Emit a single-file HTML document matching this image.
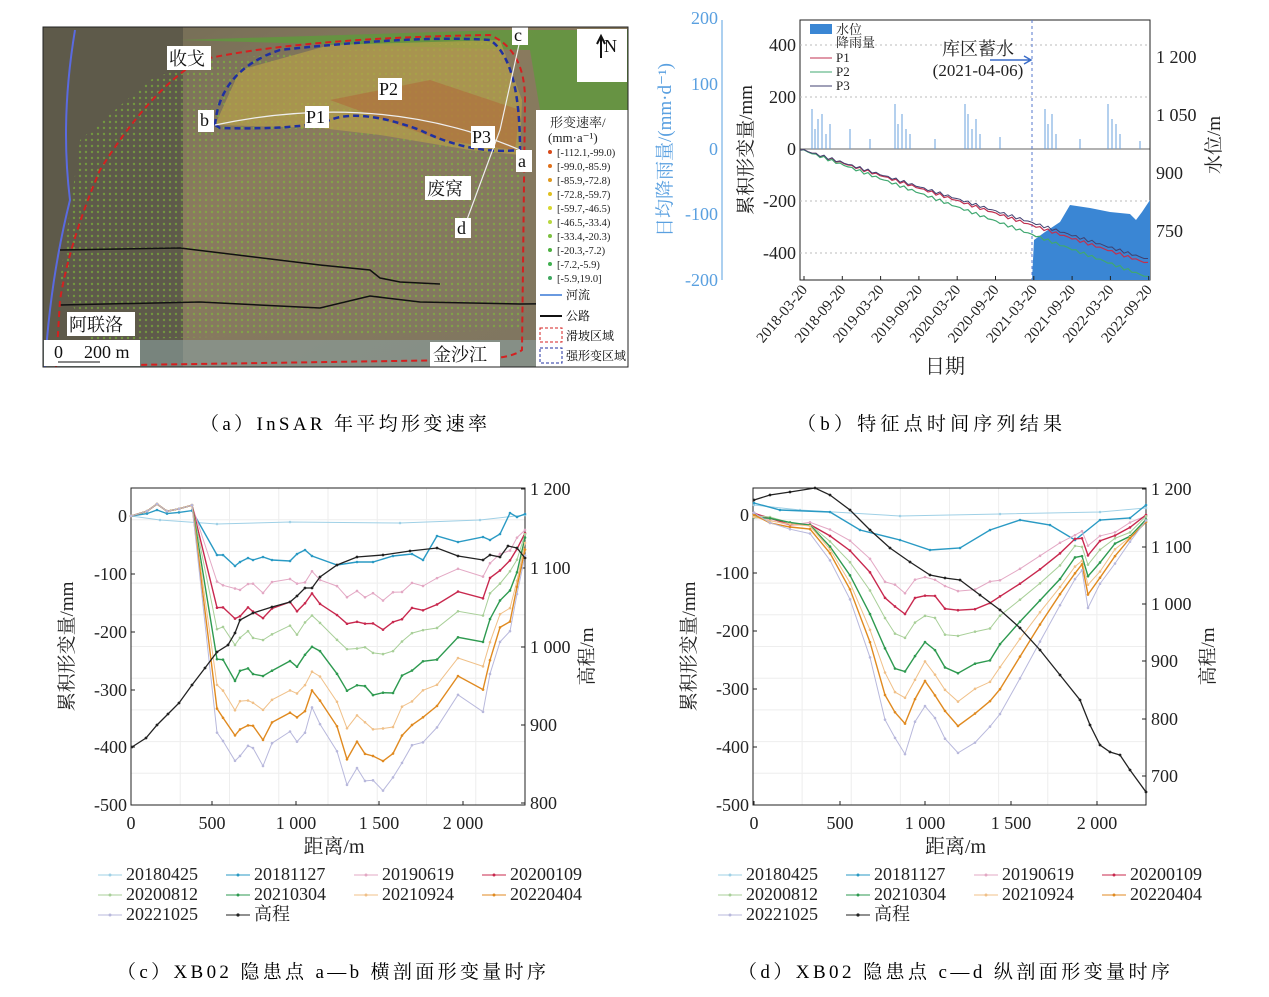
<!DOCTYPE html>
<html><head><meta charset="utf-8"><style>
body{margin:0;background:#fff;}
svg{display:block;font-family:"Liberation Serif","Noto Serif CJK SC",serif;}
</style></head><body>
<svg id="s" width="1269" height="997" viewBox="0 0 1269 997" xmlns="http://www.w3.org/2000/svg">
<defs>
<linearGradient id="g1" x1="0" y1="0" x2="1" y2="1">
<stop offset="0" stop-color="#6f6a55"/><stop offset="0.4" stop-color="#8a7b5e"/><stop offset="1" stop-color="#7d7560"/></linearGradient>
<pattern id="dots" width="6" height="6" patternUnits="userSpaceOnUse"><circle cx="2" cy="2" r="1.2" fill="#7fbf3a"/></pattern>
</defs>
<rect x="43" y="27" width="585" height="340" fill="url(#g1)"/>
<rect x="43" y="27" width="140" height="340" fill="#5e5a4a"/>
<path d="M180 40 L500 30 L628 30 L628 110 L540 110 L530 50 Z" fill="#5f9a3c" opacity="0.8"/>
<path d="M60 280 L80 140 L150 80 L200 60 L500 40 L520 150 L520 330 L90 340 Z" fill="url(#dots)" opacity="0.6"/>
<path d="M215 125 L240 70 L330 45 L500 40 L522 100 L520 155 L470 150 L380 135 L320 128 Z" fill="#b7a04a" opacity="0.7"/>
<path d="M330 100 L430 80 L520 110 L515 150 L440 140 Z" fill="#b06a3a" opacity="0.6"/>
<rect x="43" y="340" width="585" height="27" fill="#8aa0a0" opacity="0.6"/>
<path d="M75 30 Q60 120 70 200 Q50 280 45 367" stroke="#5a6ae0" stroke-width="2" fill="none"/>
<path d="M60 250 L180 248 L320 265 L370 270 L380 278 L400 282 L440 284" stroke="#111" stroke-width="1.5" fill="none"/>
<path d="M60 305 L200 302 L320 308 L370 296 L420 302 L520 304 L628 303" stroke="#111" stroke-width="1.5" fill="none"/>
<path d="M56 367 L60 300 Q70 240 100 170 Q150 90 200 60 Q300 38 490 35 Q525 50 525 100 L522 350 Q510 360 460 360 L130 365" stroke="#d42020" stroke-width="2" stroke-dasharray="6,4" fill="none"/>
<path d="M215 125 Q220 70 280 50 Q420 35 490 40 Q520 60 520 150 Q470 155 420 130 Q360 108 330 120 Q300 130 220 128 Z" stroke="#2030a0" stroke-width="2.5" stroke-dasharray="6,4" fill="none"/>
<path d="M215 125 Q380 90 520 150" stroke="#eee" stroke-width="1.2" fill="none"/>
<path d="M520 40 L500 130 L465 225" stroke="#eee" stroke-width="1.2" fill="none"/>
<g font-size="18" fill="#111">
<rect x="167" y="46" width="44" height="24" fill="#fff"/><text x="169" y="65">收戈</text>
<rect x="378" y="78" width="24" height="22" fill="#fff"/><text x="379" y="95">P2</text>
<rect x="305" y="106" width="24" height="22" fill="#fff"/><text x="306" y="123">P1</text>
<rect x="471" y="126" width="24" height="22" fill="#fff"/><text x="472" y="143">P3</text>
<rect x="198" y="110" width="16" height="22" fill="#fff"/><text x="200" y="126">b</text>
<rect x="516" y="150" width="16" height="22" fill="#fff"/><text x="518" y="167">a</text>
<rect x="512" y="27" width="16" height="18" fill="#fff"/><text x="514" y="41">c</text>
<rect x="455" y="218" width="16" height="20" fill="#fff"/><text x="457" y="234">d</text>
<rect x="425" y="176" width="46" height="24" fill="#fff"/><text x="427" y="195">废窝</text>
<rect x="67" y="312" width="68" height="24" fill="#fff"/><text x="69" y="331">阿联洛</text>
<rect x="44" y="340" width="96" height="26" fill="#fff"/><text x="54" y="358">0</text><text x="84" y="358">200 m</text>
<path d="M58 362 L100 362" stroke="#111"/>
<rect x="430" y="342" width="70" height="25" fill="#fff"/><text x="433" y="361">金沙江</text>
<rect x="577" y="29" width="50" height="53" fill="#fff"/><text x="604" y="52">N</text>
</g>
<path d="M601 58 L601 38 M597 44 L601 36 L605 44" stroke="#111" stroke-width="2" fill="none"/>
<rect x="536" y="110" width="92" height="257" fill="#fff"/>
<g font-size="12" fill="#222">
<text x="550" y="127" font-size="13">形变速率/</text><text x="548" y="142" font-size="13">(mm·a⁻¹)</text>
</g>
<path d="M540 295 L562 295" stroke="#6a9ae0" stroke-width="2"/><text x="566" y="299" font-size="12">河流</text>
<path d="M540 316 L562 316" stroke="#111" stroke-width="2"/><text x="566" y="320" font-size="12">公路</text>
<rect x="540" y="328" width="22" height="14" fill="none" stroke="#d42020" stroke-dasharray="3,2"/><text x="566" y="340" font-size="12">滑坡区域</text>
<rect x="540" y="348" width="22" height="15" fill="none" stroke="#2030a0" stroke-dasharray="3,2"/><text x="566" y="360" font-size="12">强形变区域</text>
<rect x="43" y="27" width="585" height="340" fill="none" stroke="#222"/>
<text x="200" y="430" font-size="19" textLength="287" lengthAdjust="spacing">（a）InSAR 年平均形变速率</text>
<text x="797" y="430" font-size="19" textLength="265" lengthAdjust="spacing">（b）特征点时间序列结果</text>
<text x="117" y="978" font-size="19" textLength="429" lengthAdjust="spacing">（c）XB02 隐患点 a—b 横剖面形变量时序</text>
<text x="738" y="978" font-size="19" textLength="432" lengthAdjust="spacing">（d）XB02 隐患点 c—d 纵剖面形变量时序</text>
<g id="dyn"></g>
</svg>
<script>
const dyn=document.getElementById('dyn');
let h='';
function P(pts){return pts.map((p,i)=>(i?'L':'M')+p[0].toFixed(1)+' '+p[1].toFixed(1)).join(' ');}
function T(x,y,t,o){o=o||{};h+=`<text x="${x}" y="${y}" font-size="${o.s||18}" fill="${o.f||'#222'}" text-anchor="${o.a||'start'}"${o.tr?` transform="${o.tr}"`:''}>${t}</text>`;}
const lc=['#d84a1a','#e0701a','#e09a20','#e0c020','#d8d830','#b8d840','#7cc040','#4cb040','#40b050','#40a860'];
const ll=['[-112.1,-99.0)','[-99.0,-85.9)','[-85.9,-72.8)','[-72.8,-59.7)','[-59.7,-46.5)','[-46.5,-33.4)','[-33.4,-20.3)','[-20.3,-7.2)','[-7.2,-5.9)','[-5.9,19.0]'];
ll.forEach((l,i)=>{let y=156+i*14;h+=`<circle cx="550" cy="${y-4}" r="2" fill="${lc[i]}"/>`;T(557,y,l,{s:10.5});});
h+=`<rect x="800" y="20" width="350" height="260" fill="none" stroke="#222"/>`;
[45,97,201,253].forEach(y=>h+=`<path d="M800 ${y}H1150" stroke="#bbb" stroke-dasharray="2,3"/>`);
h+=`<path d="M800 149H1150" stroke="#333" stroke-width="0.8"/>`;
h+=`<path d="M1032 20V280" stroke="#5577cc" stroke-dasharray="3,3"/>`;
h+=`<path d="M1032 280 L1034 240 L1045 232 L1060 222 L1070 205 L1090 208 L1110 212 L1130 214 L1136 220 L1142 212 L1150 200 L1150 280Z" fill="#3a86d4"/>`;
let r='';const rx=[[812,40],[815,20],[818,30],[822,35],[826,15],[830,25],[850,20],[870,10],[895,45],[898,25],[902,35],[906,20],[910,15],[935,10],[965,45],[968,35],[972,20],[976,30],[980,15],[1000,12],[1045,40],[1048,25],[1052,35],[1056,15],[1080,10],[1108,45],[1112,30],[1116,25],[1120,15],[1140,8]];
rx.forEach(([x,v])=>r+=`M${x} 149V${149-v}`);h+=`<path d="${r}" stroke="#6aa0dc" stroke-width="1"/>`;
function cum(off){let p=[];for(let x=800;x<=1150;x+=4){let y=149+ (x-800)*0.34+off*(x-800)/350 + Math.sin(x*0.7)*1.5;p.push([x,y]);}return p;}
h+=`<path d="${P(cum(-4))}" stroke="#c03050" fill="none" stroke-width="1.2"/>`;
h+=`<path d="${P(cum(10))}" stroke="#40a870" fill="none" stroke-width="1.2"/>`;
h+=`<path d="${P(cum(-8))}" stroke="#404070" fill="none" stroke-width="1"/>`;
h+=`<rect x="810" y="24" width="22" height="10" fill="#3a86d4"/>`;
T(836,34,'水位',{s:13});T(836,47,'降雨量',{s:13});
h+=`<path d="M810 58H832" stroke="#c03050"/>`;T(836,62,'P1',{s:13});
h+=`<path d="M810 72H832" stroke="#40a870"/>`;T(836,76,'P2',{s:13});
h+=`<path d="M810 86H832" stroke="#404070"/>`;T(836,90,'P3',{s:13});
T(978,55,'库区蓄水',{s:18,a:'middle'});T(978,76,'(2021-04-06)',{s:17,a:'middle'});
h+=`<path d="M990 60H1030 M1024 56L1031 60L1024 64" stroke="#3a6cc8" stroke-width="1.5" fill="none"/>`;
[[200,24],[100,90],[0,155],[-100,220],[-200,286]].forEach(([v,y])=>T(718,y,v,{f:'#5aa0e0',a:'end'}));
h+=`<path d="M722 20V280" stroke="#5aa0e0"/>`;
[[400,51],[200,103],[0,155],[-200,207],[-400,259]].forEach(([v,y])=>T(796,y,v,{a:'end'}));
[['1 200',63],['1 050',121],['900',179],['750',237]].forEach(([v,y])=>{T(1156,y,v);});
T(671,150,'日均降雨量/(mm·d⁻¹)',{f:'#5aa0e0',a:'middle',tr:'rotate(-90 671 150)',s:19});
T(752,150,'累积形变量/mm',{a:'middle',tr:'rotate(-90 752 150)',s:19});
T(1220,145,'水位/m',{a:'middle',tr:'rotate(-90 1220 145)',s:19});
const dates=['2018-03-20','2018-09-20','2019-03-20','2019-09-20','2020-03-20','2020-09-20','2021-03-20','2021-09-20','2022-03-20','2022-09-20'];
dates.forEach((d,i)=>{let x=804+i*38.3;h+=`<path d="M${x} 280v-4" stroke="#222"/>`;T(x+4,290,d,{s:15,a:'end',tr:`rotate(-50 ${x+4} 290)`});});
T(945,373,'日期',{a:'middle',s:20});
const cols=['#9fd0e6','#2a9ac4','#e3a8c4','#c8284e','#a8cf98','#2e9a50','#f0c088','#e08a20','#b8b8dc'];
const wid=[1,1.4,1,1.4,1,1.4,1,1.4,1];
function panel(o){
 const {x0,x1,y0,y1}=o;
 for(let i=1;i<8;i++){let x=x0+(x1-x0)*i/8;h+=`<path d="M${x} ${y0}V${y1}" stroke="#eee"/>`;}
 for(let i=1;i<10;i++){let y=y0+(y1-y0)*i/10;h+=`<path d="M${x0} ${y}H${x1}" stroke="#eee"/>`;}
 h+=`<rect x="${x0}" y="${y0}" width="${x1-x0}" height="${y1-y0}" fill="none" stroke="#222"/>`;
 o.yl.forEach(([v,y])=>{T(x0-4,y+6,v,{a:'end'});h+=`<path d="M${x0} ${y}h4" stroke="#222"/>`;});
 o.yr.forEach(([v,y])=>{T(x1+5,y+6,v);h+=`<path d="M${x1} ${y}h-4" stroke="#222"/>`;});
 o.xl.forEach(([v,x])=>{T(x,y1+24,v,{a:'middle'});h+=`<path d="M${x} ${y1}v-4" stroke="#222"/>`;});
 T((x0+x1)/2+6,y1+48,'距离/m',{a:'middle',s:20});
 T(x0-58,(y0+y1)/2,'累积形变量/mm',{a:'middle',s:19,tr:`rotate(-90 ${x0-58} ${(y0+y1)/2})`});
 T(x1+68,(y0+y1)/2+10,'高程/m',{a:'middle',s:19,tr:`rotate(-90 ${x1+68} ${(y0+y1)/2+10})`});
 o.series.forEach((pts,i)=>{h+=`<path d="${P(pts)}" stroke="${cols[i]}" stroke-width="${wid[i]}" fill="none"/>`;pts.forEach(p=>h+=`<circle cx="${p[0]}" cy="${p[1]}" r="1.3" fill="${cols[i]}"/>`);});
 h+=`<path d="${P(o.elev)}" stroke="#222" stroke-width="1.3" fill="none"/>`;o.elev.forEach(p=>h+=`<circle cx="${p[0]}" cy="${p[1]}" r="1.4" fill="#222"/>`);
 const names=['20180425','20181127','20190619','20200109','20200812','20210304','20210924','20220404','20221025'];
 const lx=o.lx;
 names.forEach((n,i)=>{let c=i%4,rw=Math.floor(i/4);let x=lx+c*128,y=880+rw*20;h+=`<path d="M${x-28} ${y-5}h24" stroke="${cols[i]}"/><circle cx="${x-16}" cy="${y-5}" r="1.5" fill="${cols[i]}"/>`;T(x,y,n);});
 let x=lx+128,y=920;h+=`<path d="M${x-28} ${y-5}h24" stroke="#222"/><circle cx="${x-16}" cy="${y-5}" r="1.6" fill="#222"/>`;T(x,y,'高程');
}
const cx=[192,217,223,235,240,248,253,263,272,290,297,305,312,320,337,347,357,365,373,383,393,402,412,423,437,458,483,490,500,510,517,525];
const deep=[10,217,222,247,238,230,235,247,230,217,227,214,194,207,237,267,254,262,267,272,264,245,231,224,214,181,194,157,127,114,81,37];
const z=516;const pre=[[131,0],[147,-8],[157,-20],[167,-8],[179,-12],[192,-18]];
function serC(sc,jit){let p=pre.map(([x,v])=>[x,z+v*0.6]);cx.slice(1).forEach((x,k)=>{let d=deep[k+1]*sc;let j=Math.sin(x*0.31+jit)*3;p.push([x,z+d+j]);});return p;}
const scC=[0,0,0.3,0.41,0.51,0.66,0.79,0.9,1.0];
let sC=scC.map((s,i)=>serC(s,i));
sC[0]=[[131,516],[160,520],[217,524],[290,522],[400,523],[480,520],[525,515]];
sC[1]=pre.map(([x,v])=>[x,z+v*0.3]).concat([[217,555],[223,555],[235,566],[240,562],[248,558],[253,560],[263,557],[272,560],[290,561],[297,554],[305,550],[312,556],[337,565],[357,562],[373,562],[393,556],[412,554],[423,560],[437,536],[458,542],[483,537],[490,540],[500,534],[510,513],[517,517],[525,514]]);
const elC=[[132,747],[146,738],[157,725],[168,714],[179,703],[192,685],[205,668],[217,652],[228,645],[235,633],[240,620],[253,613],[272,607],[290,602],[297,596],[305,588],[312,588],[320,577],[337,565],[357,557],[383,555],[410,551],[437,548],[458,556],[483,560],[490,555],[500,557],[508,546],[517,548],[525,558]];
panel({x0:131,x1:525,y0:488,y1:805,yl:[[0,516],[-100,574],[-200,632],[-300,690],[-400,747],[-500,805]],yr:[['1 200',489],['1 100',568],['1 000',647],['900',725],['800',803]],xl:[[0,131],[500,212],['1 000',296],['1 500',379],['2 000',463]],series:sC,elev:elC,lx:126});
const dx=[754,770,790,810,830,850,870,885,895,905,915,925,935,945,958,975,990,1000,1020,1040,1060,1075,1082,1088,1100,1115,1130,1146];
const dv=[0,-5,-10,-30,-80,-150,-250,-350,-390,-410,-360,-330,-350,-390,-410,-390,-370,-340,-280,-220,-160,-110,-100,-160,-120,-80,-50,-10];
const scD=[0,0,0.32,0.41,0.52,0.67,0.78,0.88,1.0];
let sD=scD.map((s,i)=>dx.map((x,k)=>[x,515-dv[k]*0.578*s+Math.sin(x*0.27+i)*2.5+(k<3?3*k:0)]));
sD[0]=[[754,505],[800,510],[900,516],[1000,514],[1100,512],[1146,508]];
sD[1]=[[754,503],[780,510],[830,512],[860,530],[900,540],[930,550],[960,548],[990,530],[1020,520],[1050,525],[1075,540],[1100,520],[1130,518],[1146,505]];
const elD=[[754,500],[770,495],[790,492],[815,488],[830,495],[850,510],[870,530],[890,548],[910,562],[930,575],[945,578],[960,580],[980,595],[1000,610],[1020,628],[1040,650],[1060,675],[1080,700],[1090,725],[1100,745],[1110,752],[1120,755],[1130,770],[1146,792]];
panel({x0:753,x1:1146,y0:488,y1:805,yl:[[0,515],[-100,573],[-200,631],[-300,689],[-400,747],[-500,805]],yr:[['1 200',489],['1 100',547],['1 000',604],['900',661],['800',719],['700',776]],xl:[[0,754],[500,840],['1 000',925],['1 500',1011],['2 000',1097]],series:sD,elev:elD,lx:746});
dyn.innerHTML=h;
</script>
</body></html>
